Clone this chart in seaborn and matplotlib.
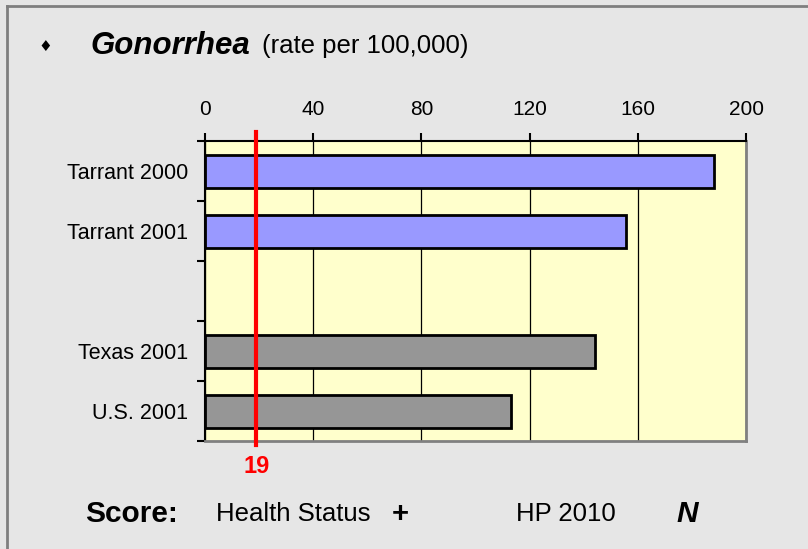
import matplotlib
matplotlib.use('Agg')
import matplotlib.pyplot as plt
import matplotlib.lines as mlines
import seaborn as sns
import pandas as pd

# Chart data
categories = ['Tarrant 2000', 'Tarrant 2001', 'Texas 2001', 'U.S. 2001']
rates = [188, 155.5, 144, 113]
slot_order = ['Tarrant 2000', 'Tarrant 2001', ' ', 'Texas 2001', 'U.S. 2001']
bar_colors = {'Tarrant 2000': '#9999ff', 'Tarrant 2001': '#9999ff',
              'Texas 2001': '#969696', 'U.S. 2001': '#969696'}
x_ticks = [0, 40, 80, 120, 160, 200]
hp2010_target = 19

plt.rcParams['font.family'] = ['Liberation Sans', 'DejaVu Sans']

df = pd.DataFrame({'Area': categories, 'Rate': rates})

fig = plt.figure(figsize=(8.08, 5.49), dpi=100, facecolor='#e6e6e6')
W, H = 808, 549

# Slide border
fig.add_artist(mlines.Line2D([7 / W, 1], [1 - 6 / H, 1 - 6 / H], color='#7f7f7f', lw=2))
fig.add_artist(mlines.Line2D([7 / W, 7 / W], [0, 1 - 6 / H], color='#7f7f7f', lw=2))

ax = fig.add_axes([205 / W, 1 - 441 / H, 541 / W, 300 / H])
ax.set_facecolor('#ffffcc')

sns.barplot(ax=ax, data=df, x='Rate', y='Area', hue='Area', order=slot_order,
            palette=bar_colors, saturation=1, orient='h', width=0.55,
            edgecolor='black', linewidth=2, legend=False, zorder=3)

ax.set_xlim(0, 200)
ax.set_ylim(4.5, -0.5)
ax.set_xlabel('')
ax.set_ylabel('')

# x axis on top
ax.xaxis.tick_top()
ax.set_xticks(x_ticks)
ax.set_xticklabels([str(t) for t in x_ticks], fontsize=15)
ax.tick_params(axis='x', direction='out', length=6, width=1.5, color='black', pad=10)
ax.grid(axis='x', color='black', lw=0.9, zorder=1)
ax.set_axisbelow(True)

# y labels at centers, tick marks at slot boundaries
ax.set_yticks(range(len(slot_order)))
ax.set_yticklabels(slot_order, fontsize=15.5)
ax.tick_params(axis='y', which='major', length=0, pad=12)
ax.set_yticks([i - 0.5 for i in range(len(slot_order) + 1)], minor=True)
ax.tick_params(axis='y', which='minor', direction='out', length=6, width=1.5, color='black')

for side in ['top', 'left']:
    ax.spines[side].set_color('black')
    ax.spines[side].set_linewidth(1.5)
for side in ['right', 'bottom']:
    ax.spines[side].set_color('#808080')
    ax.spines[side].set_linewidth(2)

# HP 2010 target line
ax.axvline(hp2010_target, ymin=-0.013, ymax=1.03, color='red', lw=3, clip_on=False, zorder=5)
ax.text(hp2010_target, -0.085, str(hp2010_target), transform=ax.get_xaxis_transform(),
        color='red', fontsize=17, fontweight='bold', ha='center', va='center')

# Title
fig.text(45 / W, 1 - 47 / H, '\u2666', fontsize=11, ha='center', va='center',
         family=['DejaVu Sans'])
fig.text(90 / W, 1 - 46 / H, 'Gonorrhea', fontsize=22.5, fontweight='bold',
         fontstyle='italic', ha='left', va='center')
fig.text(262 / W, 1 - 46 / H, '(rate per 100,000)', fontsize=18.5, ha='left', va='center')

# Score row
y_score = 1 - 514 / H
fig.text(85 / W, y_score, 'Score:', fontsize=21.5, fontweight='bold', va='center')
fig.text(216 / W, y_score, 'Health Status', fontsize=18.5, va='center')
fig.text(392 / W, y_score, '+', fontsize=21, fontweight='bold', va='center')
fig.text(516 / W, y_score, 'HP 2010', fontsize=18.5, va='center')
fig.text(676 / W, y_score, 'N', fontsize=21.5, fontweight='bold', fontstyle='italic', va='center')

fig.savefig('out.png', dpi=100, facecolor=fig.get_facecolor())
